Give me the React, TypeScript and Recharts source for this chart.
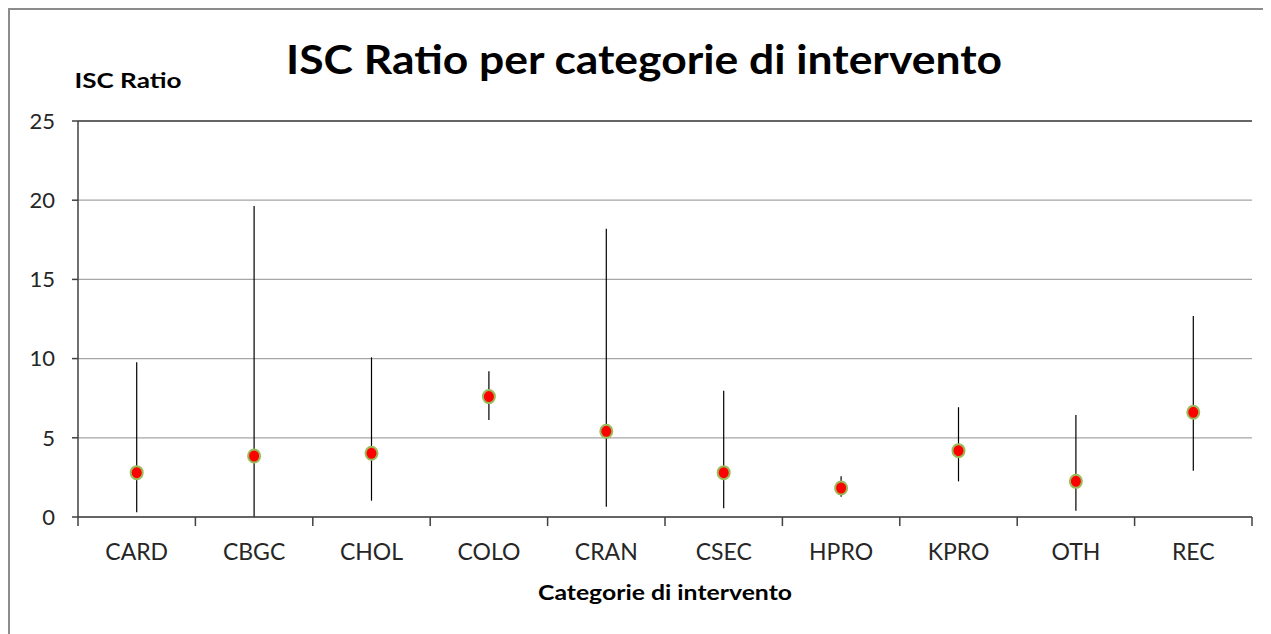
import React from 'react';
import {
  ComposedChart,
  Line,
  ErrorBar,
  XAxis,
  YAxis,
  CartesianGrid,
  ReferenceLine,
} from 'recharts';

// ISC ratio per surgical category, with the lower/upper interval bounds
const categories = ['CARD', 'CBGC', 'CHOL', 'COLO', 'CRAN', 'CSEC', 'HPRO', 'KPRO', 'OTH', 'REC'];
const iscRatio = [2.8, 3.85, 4.02, 7.6, 5.41, 2.8, 1.83, 4.19, 2.25, 6.61];
const lowerBound = [0.3, 0, 1.03, 6.12, 0.65, 0.55, 1.28, 2.25, 0.4, 2.92];
const upperBound = [9.77, 19.63, 10.08, 9.2, 18.2, 7.97, 2.57, 6.93, 6.44, 12.69];
const yTicks = [0, 5, 10, 15, 20, 25];

const data = categories.map((cat, i) => ({
  cat,
  isc: iscRatio[i],
  err: [iscRatio[i] - lowerBound[i], upperBound[i] - iscRatio[i]],
}));

const FONT = 'Lato, "Open Sans", sans-serif';
const AXIS = '#404040';
const W = 1263;
const H = 626;

const RatioDot = (props: any) => {
  const { cx, cy, index } = props;
  if (cx == null || cy == null) return null;
  return (
    <ellipse
      key={`dot-${index}`}
      cx={cx}
      cy={cy}
      rx={6}
      ry={6.5}
      fill="#ff0000"
      stroke="#9bbb59"
      strokeWidth={2}
    />
  );
};

// label in the middle of the band, tick marks on the band edges
const CategoryTick = (props: any) => {
  const { x, y, payload, index, visibleTicksCount } = props;
  const half = payload.offset || 0;
  const isLast = index === visibleTicksCount - 1;
  return (
    <g>
      <line x1={x - half} y1={y} x2={x - half} y2={y + 9} stroke={AXIS} strokeWidth={1.5} />
      {isLast && (
        <line x1={x + half} y1={y} x2={x + half} y2={y + 9} stroke={AXIS} strokeWidth={1.5} />
      )}
      <text x={x} y={y + 43} textAnchor="middle" fill="#262626" fontSize={23} fontFamily={FONT}>
        {payload.value}
      </text>
    </g>
  );
};

export default function App() {
  return (
    <div style={{ position: 'relative', width: W, height: H, fontFamily: FONT }}>
      <ComposedChart
        width={W}
        height={H}
        data={data}
        margin={{ top: 113, right: 19, left: 0, bottom: 0 }}
      >
        <CartesianGrid vertical={false} stroke="#a6a6a6" strokeWidth={1.2} />
        <XAxis
          dataKey="cat"
          scale="band"
          tickLine={false}
          tickSize={0}
          tickMargin={0}
          height={117}
          interval={0}
          stroke={AXIS}
          strokeWidth={1.5}
          tick={<CategoryTick />}
        />
        <YAxis
          domain={[0, 25]}
          ticks={yTicks}
          interval={0}
          width={70}
          tickSize={6}
          tickMargin={17}
          stroke={AXIS}
          strokeWidth={1.5}
          tick={{ fill: '#262626', fontSize: 22, fontFamily: FONT }}
        />
        <YAxis
          yAxisId="right"
          orientation="right"
          domain={[0, 25]}
          width={0}
          tick={false}
          tickLine={false}
          stroke={AXIS}
          strokeWidth={1.5}
        />
        <ReferenceLine y={25} stroke={AXIS} strokeWidth={1.5} />
        <Line
          dataKey="isc"
          stroke="none"
          isAnimationActive={false}
          dot={RatioDot}
          activeDot={false}
        >
          <ErrorBar dataKey="err" direction="y" width={0} stroke="#000" strokeWidth={1.2} />
        </Line>
      </ComposedChart>

      <svg
        width={W}
        height={H}
        style={{ position: 'absolute', left: 0, top: 0, pointerEvents: 'none' }}
      >
        <line x1={1} y1={0} x2={1} y2={H} stroke="#8c8c8c" strokeWidth={2} />
        <line x1={0} y1={1} x2={W} y2={1} stroke="#8c8c8c" strokeWidth={2} />
        <text
          x={636}
          y={66}
          textAnchor="middle"
          fontFamily={FONT}
          fontWeight={700}
          fontSize={40}
          textLength={716}
          lengthAdjust="spacingAndGlyphs"
          fill="#000"
        >
          ISC Ratio per categorie di intervento
        </text>
        <text
          x={120}
          y={80}
          textAnchor="middle"
          fontFamily={FONT}
          fontWeight={700}
          fontSize={21}
          textLength={107}
          lengthAdjust="spacingAndGlyphs"
          fill="#000"
        >
          ISC Ratio
        </text>
        <text
          x={657}
          y={592}
          textAnchor="middle"
          fontFamily={FONT}
          fontWeight={700}
          fontSize={21}
          textLength={254}
          lengthAdjust="spacingAndGlyphs"
          fill="#000"
        >
          Categorie di intervento
        </text>
      </svg>
    </div>
  );
}
